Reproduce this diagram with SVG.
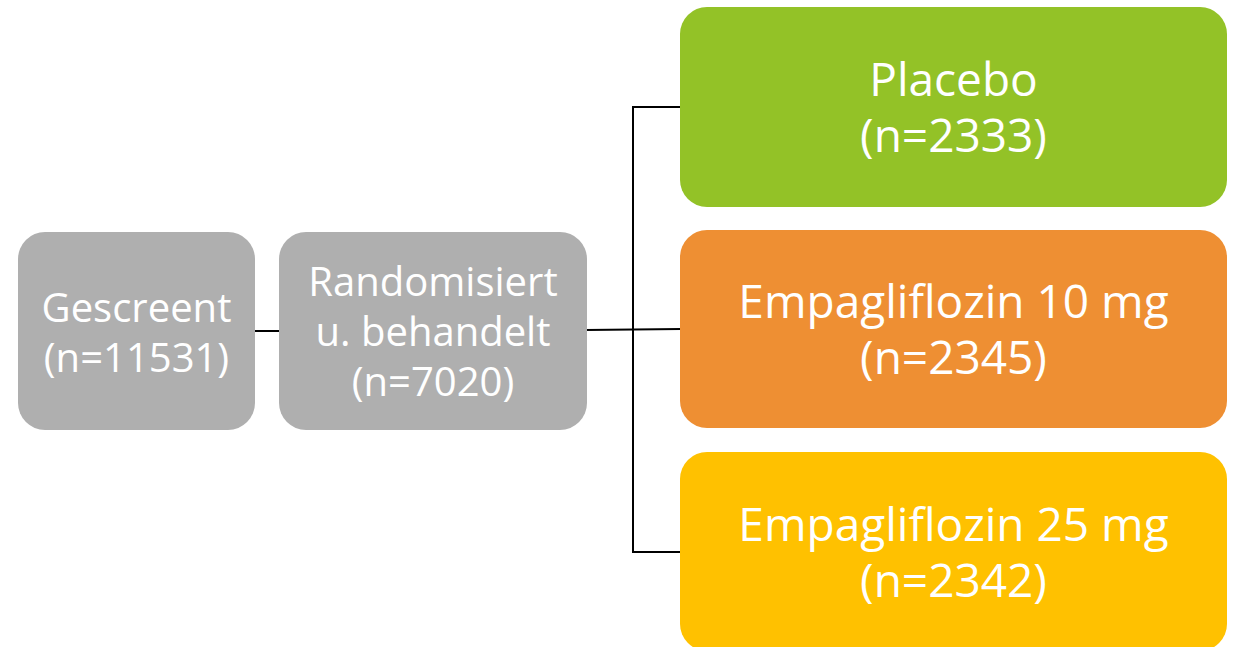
<svg xmlns="http://www.w3.org/2000/svg" width="1238" height="647" viewBox="0 0 1238 647">
  <style>
    .box { stroke: none; }
    .grey { fill: #AFAFAF; }
    .green { fill: #93C227; }
    .orange { fill: #EE8F33; }
    .yellow { fill: #FFC100; }
    .lbl { font-family: "Open Sans", "Noto Sans", sans-serif; fill: #FFFFFF; text-anchor: middle; }
    .sm { font-size: 40px; }
    .lg { font-size: 46px; }
    .wire { fill: none; stroke: #000000; stroke-width: 2; }
  </style>
  <rect width="1238" height="647" fill="#FFFFFF"/>

  <g id="connectors">
    <line class="wire" x1="255" y1="331" x2="280" y2="331"/>
    <line class="wire" x1="586" y1="330" x2="681" y2="329"/>
    <polyline class="wire" points="681,107 633,107 633,552 681,552"/>
  </g>

  <g id="screened">
    <rect class="box grey" x="18" y="232" width="237" height="198" rx="27"/>
    <text class="lbl sm" x="136.5" y="322">Gescreent</text>
    <text class="lbl sm" x="136.5" y="372">(n=11531)</text>
  </g>

  <g id="randomized">
    <rect class="box grey" x="279" y="232" width="308" height="198" rx="27"/>
    <text class="lbl sm" x="433" y="296">Randomisiert</text>
    <text class="lbl sm" x="433" y="346">u. behandelt</text>
    <text class="lbl sm" x="433" y="396">(n=7020)</text>
  </g>

  <g id="placebo">
    <rect class="box green" x="680" y="7" width="547" height="200" rx="27"/>
    <text class="lbl lg" x="953.5" y="96">Placebo</text>
    <text class="lbl lg" x="953.5" y="152">(n=2333)</text>
  </g>

  <g id="empa10">
    <rect class="box orange" x="680" y="230" width="547" height="198" rx="27"/>
    <text class="lbl lg" x="953.5" y="318">Empagliflozin 10 mg</text>
    <text class="lbl lg" x="953.5" y="374">(n=2345)</text>
  </g>

  <g id="empa25">
    <rect class="box yellow" x="680" y="452" width="547" height="199" rx="27"/>
    <text class="lbl lg" x="953.5" y="541">Empagliflozin 25 mg</text>
    <text class="lbl lg" x="953.5" y="597">(n=2342)</text>
  </g>
</svg>
